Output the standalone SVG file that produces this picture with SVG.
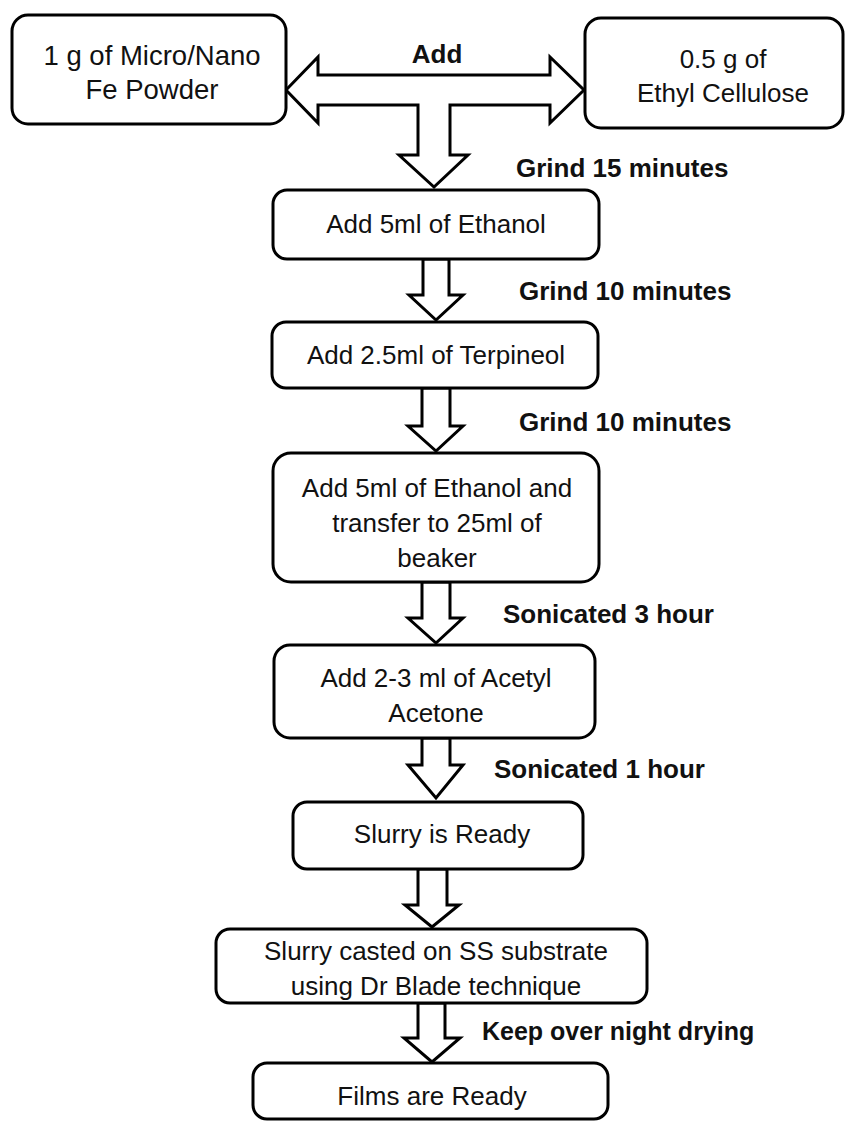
<svg xmlns="http://www.w3.org/2000/svg" width="845" height="1126" viewBox="0 0 845 1126">
<style>
.box{fill:#fff;stroke:#000;stroke-width:3}
.arr{fill:#fff;stroke:#000;stroke-width:3;stroke-linejoin:miter}
.t{font-family:"Liberation Sans",Arial,sans-serif;font-size:26px;fill:#111;text-anchor:middle}
.b{font-family:"Liberation Sans",Arial,sans-serif;font-size:26px;font-weight:bold;fill:#111}
</style>
<rect width="845" height="1126" fill="#fff"/>
<g id="connectors">
<polygon class="arr" points="286,90 318,57 318,75 550,75 550,57 584,90 550,123 550,105 450,105 450,155 468,155 434,187 399,155 418,155 418,105 318,105 318,123"/>
<polygon class="arr" points="423,259 449,259 449,295 463,295 436,320 409,295 423,295"/>
<polygon class="arr" points="422,388 450,388 450,426 463,426 436,451 408,426 422,426"/>
<polygon class="arr" points="422,582 450,582 450,618 463,618 436,643 408,618 422,618"/>
<polygon class="arr" points="422,738 450,738 450,765 463,765 436,798 408,765 422,765"/>
<polygon class="arr" points="418,869 447,869 447,905 459,905 432,927 405,905 418,905"/>
<polygon class="arr" points="418,1003 445,1003 445,1038 460,1038 432,1062 404,1038 418,1038"/>
<text class="b" x="437" y="63" text-anchor="middle">Add</text>
<text class="b" x="516" y="177">Grind 15 minutes</text>
<text class="b" x="519" y="300">Grind 10 minutes</text>
<text class="b" x="519" y="431">Grind 10 minutes</text>
<text class="b" x="503" y="623">Sonicated 3 hour</text>
<text class="b" x="494" y="778">Sonicated 1 hour</text>
<text class="b" x="482" y="1040" style="font-size:25px">Keep over night drying</text>
</g>
<g id="n1">
<rect class="box" x="12" y="15" width="274" height="109" rx="16"/>
<text class="t" x="152" y="65" style="font-size:27.5px">1 g of Micro/Nano</text>
<text class="t" x="152" y="99" style="font-size:27.5px">Fe Powder</text>
</g>
<g id="n2">
<rect class="box" x="585" y="18" width="258" height="110" rx="16"/>
<text class="t" x="723" y="68">0.5 g of</text>
<text class="t" x="723" y="102">Ethyl Cellulose</text>
</g>
<g id="n3">
<rect class="box" x="273" y="190" width="326" height="69" rx="14"/>
<text class="t" x="436" y="233">Add 5ml of Ethanol</text>
</g>
<g id="n4">
<rect class="box" x="272" y="322" width="326" height="66" rx="14"/>
<text class="t" x="436" y="364">Add 2.5ml of Terpineol</text>
</g>
<g id="n5">
<rect class="box" x="273" y="453" width="326" height="129" rx="18"/>
<text class="t" x="437" y="497">Add 5ml of Ethanol and</text>
<text class="t" x="437" y="532">transfer to 25ml of</text>
<text class="t" x="437" y="567">beaker</text>
</g>
<g id="n6">
<rect class="box" x="274" y="645" width="321" height="93" rx="16"/>
<text class="t" x="436" y="687">Add 2-3 ml of Acetyl</text>
<text class="t" x="436" y="722">Acetone</text>
</g>
<g id="n7">
<rect class="box" x="293" y="802" width="290" height="67" rx="14"/>
<text class="t" x="442" y="843">Slurry is Ready</text>
</g>
<g id="n8">
<rect class="box" x="216" y="929" width="431" height="74" rx="14"/>
<text class="t" x="436" y="960">Slurry casted on SS substrate</text>
<text class="t" x="436" y="995">using Dr Blade technique</text>
</g>
<g id="n9">
<rect class="box" x="253" y="1063" width="355" height="56" rx="14"/>
<text class="t" x="432" y="1105">Films are Ready</text>
</g>
</svg>
